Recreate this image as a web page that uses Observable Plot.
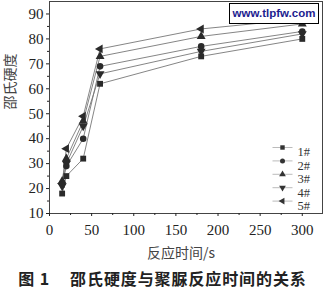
<!DOCTYPE html>
<html>
<head>
<meta charset="utf-8">
<script src="https://cdn.jsdelivr.net/npm/d3@7"></script>
<script src="https://cdn.jsdelivr.net/npm/@observablehq/plot@0.6"></script>
<style>
  body { margin: 0; background: #fff; width: 323px; height: 294px; overflow: hidden; position: relative; }
  #wm { position: absolute; left: 229px; top: 3px; width: 88px; height: 19px; border: 1.5px solid #000; background: #fff;
        font: bold 11.5px "Liberation Sans", Arial, sans-serif; color: #1d1d8f; text-align: center; line-height: 19px; }
  #cap { position: absolute; left: 0; top: 266px; width: 323px; height: 28px; text-align: center; line-height: 28px;
         font: bold 16px "Noto Sans CJK SC", sans-serif; color: #222; letter-spacing: 0.9px; padding-left: 2px; box-sizing: border-box; }
</style>
</head>
<body>
<div id="chart"></div>
<div id="wm">www.tlpfw.com</div>
<div id="cap">图 1<span style="margin-left:20px">邵氏硬度与聚脲反应时间的关系</span></div>
<script>
const times = [15, 20, 40, 60, 180, 300];
const seriesNames = ["1#", "2#", "3#", "4#", "5#"];
const s1 = [18, 25, 32, 62, 73, 80];
const s2 = [22, 29, 40, 69, 77, 83];
const s3 = [23, 32, 47, 73, 81, 86];
const s4 = [21, 30, 45, 66, 75, 82];
const s5 = [22, 36, 49, 76, 84, 88];
const xTicks = [0, 50, 100, 150, 200, 250, 300];
const yTicks = [10, 20, 30, 40, 50, 60, 70, 80, 90];
const xLabel = "反应时间/s";
const yLabel = "邵氏硬度";

const allSeries = [s1, s2, s3, s4, s5];
const rows = allSeries.flatMap((vals, i) => vals.map((v, j) => ({t: times[j], v, s: seriesNames[i]})));
const symbols = ["square", "circle", "triangle", "triangle", "triangle"];
const rotations = [0, 0, 0, 180, -90];
const rotOf = Object.fromEntries(seriesNames.map((n, i) => [n, rotations[i]]));
const serif = "'Liberation Serif', 'Times New Roman', serif";
const cjk = "'Noto Sans CJK SC', sans-serif";
const dash = {draw(ctx) { ctx.moveTo(-10, 0); ctx.lineTo(10, 0); }};

const legendMarks = seriesNames.flatMap((n, i) => [
  Plot.dot([n], {frameAnchor: "top-left", dx: 233, dy: 146 + 13.4 * i, symbol: () => dash, stroke: "#aaa", strokeWidth: 0.8, r: 3}),
  Plot.dot([n], {frameAnchor: "top-left", dx: 233, dy: 146 + 13.4 * i, symbol: () => symbols[i], rotate: rotations[i], fill: "#333", r: 2.5}),
  Plot.text([n], {frameAnchor: "top-left", dx: 248, dy: 146 + 13.4 * i, text: d => d, textAnchor: "start", fontFamily: serif, fontSize: 12.5, fill: "#333"})
]);

const chart = Plot.plot({
  width: 323,
  height: 266,
  marginTop: 1,
  marginLeft: 49,
  marginRight: 1,
  marginBottom: 53,
  style: {background: "#fff", color: "#222"},
  x: {domain: [0, 324]},
  y: {domain: [10, 95]},
  symbol: {domain: seriesNames, range: symbols},
  marks: [
    Plot.frame({stroke: "#444", strokeWidth: 1}),
    Plot.axisX({ticks: xTicks, tickSize: 3, tickPadding: 8, fontSize: 15, fontFamily: serif, label: null}),
    Plot.axisX({ticks: d3.range(25, 325, 50), tickSize: 2, text: null, label: null}),
    Plot.axisY({ticks: yTicks, tickSize: 3, tickPadding: 3, fontSize: 15, fontFamily: serif, label: null}),
    Plot.axisY({ticks: d3.range(15, 95, 10), tickSize: 2, text: null, label: null}),
    Plot.text([xLabel], {frameAnchor: "bottom", dx: -5, dy: 40, text: d => d, fontFamily: cjk, fontSize: 14, fill: "#444", lineAnchor: "middle"}),
    Plot.text([yLabel], {frameAnchor: "left", dx: -39, dy: 2, text: d => d, rotate: -90, fontFamily: cjk, fontSize: 14, fill: "#444", lineAnchor: "middle"}),
    Plot.line(rows, {x: "t", y: "v", z: "s", stroke: "#777", strokeWidth: 0.9}),
    Plot.dot(rows, {x: "t", y: "v", symbol: "s", rotate: d => rotOf[d.s], fill: "#2a2a2a", r: 3.3}),
    ...legendMarks
  ]
});
document.getElementById("chart").appendChild(chart);
</script>
</body>
</html>
